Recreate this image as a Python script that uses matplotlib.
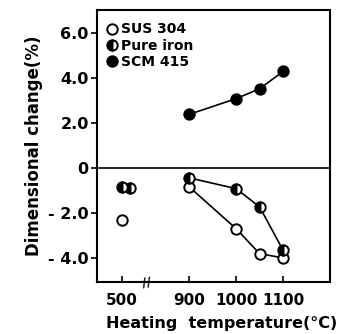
import matplotlib
matplotlib.use('Agg')
import matplotlib.pyplot as plt

# ── data ──────────────────────────────────────────────
sus_temp = [900, 1000, 1050, 1100]
sus_dim = [-0.84, -2.70, -3.81, -4.00]
sus_temp_low = [500]
sus_dim_low = [-2.33]

iron_temp = [900, 1000, 1050, 1100]
iron_dim = [-0.44, -0.92, -1.73, -3.66]
iron_temp_low = [500, 518]
iron_dim_low = [-0.86, -0.90]

scm_temp = [900, 1000, 1050, 1100]
scm_dim = [2.38, 3.08, 3.52, 4.29]

xticks = [500, 900, 1000, 1100]
yticks = [-4.0, -2.0, 0, 2.0, 4.0, 6.0]
ytick_labels = ['- 4.0', '- 2.0', '0', '2.0', '4.0', '6.0']


def xpos(t):
    # broken axis: the 500 region is moved next to 900
    return t + 257 if t < 800 else t


plt.rcParams['font.family'] = 'DejaVu Sans'
fig = plt.figure(figsize=(3.41, 3.34), dpi=100)
ax = fig.add_axes([0.2845, 0.1557, 0.6835, 0.8143])

mk = dict(marker='o', markersize=7.5, markeredgewidth=1.4,
          markeredgecolor='black', color='black')

ax.axhline(0, color='black', lw=1.2)

ax.plot([xpos(t) for t in sus_temp], sus_dim, lw=1.2,
        markerfacecolor='white', **mk)
ax.plot([xpos(t) for t in iron_temp], iron_dim, lw=1.2, fillstyle='left',
        markerfacecoloralt='white', **mk)
ax.plot([xpos(t) for t in scm_temp], scm_dim, lw=1.2, **mk)

ax.plot([xpos(t) for t in sus_temp_low], sus_dim_low, ls='none',
        markerfacecolor='white', **mk)
ax.plot([xpos(t) for t in iron_temp_low], iron_dim_low, ls='none',
        fillstyle='left', markerfacecoloralt='white', **mk)

# legend
h1, = ax.plot([], [], ls='none', markerfacecolor='white', **mk)
h2, = ax.plot([], [], ls='none', fillstyle='left',
              markerfacecoloralt='white', **mk)
h3, = ax.plot([], [], ls='none', **mk)
leg = ax.legend([h1, h2, h3], ['SUS 304', 'Pure iron', 'SCM 415'],
                loc='upper left', frameon=False, fontsize=10,
                handlelength=0.6, handletextpad=0.3, labelspacing=0.15,
                borderaxespad=0.4, bbox_to_anchor=(0.0, 0.995))
for t in leg.get_texts():
    t.set_fontweight('bold')

ax.set_xlim(704, 1200)
ax.set_ylim(-5.07, 7.02)
ax.set_xticks([xpos(t) for t in xticks])
ax.set_xticklabels([str(t) for t in xticks])
ax.set_yticks(yticks)
ax.set_yticklabels(ytick_labels)
ax.tick_params(axis='x', direction='in', length=4, width=1.2,
               labelsize=11, pad=8)
ax.tick_params(axis='y', direction='out', length=4, width=1.2,
               labelsize=11.5, pad=2)
for lab in ax.get_xticklabels() + ax.get_yticklabels():
    lab.set_fontweight('bold')
for s in ax.spines.values():
    s.set_linewidth(1.5)

# break mark on the x axis
ax.text(xpos(553), -5.07, '//', ha='center', va='center',
        fontsize=9, fontweight='bold', rotation=10)

ax.set_xlabel('Heating  temperature(\u00b0C)', fontsize=11.5,
              fontweight='bold', labelpad=6, x=0.535)
ax.set_ylabel('Dimensional change(%)', fontsize=12, fontweight='bold',
              labelpad=4)

fig.savefig('out.png', dpi=100)
